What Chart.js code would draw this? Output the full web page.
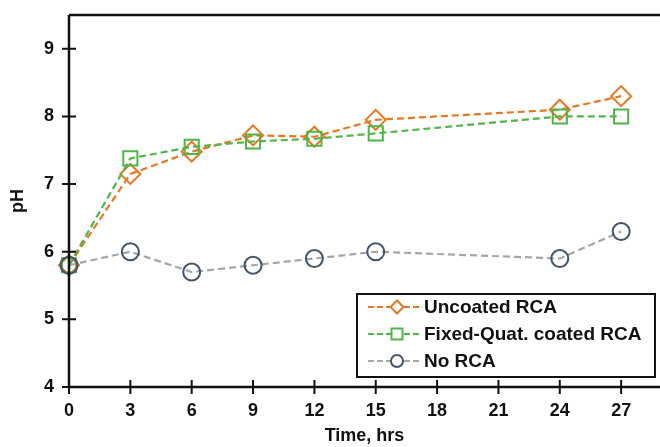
<!DOCTYPE html>
<html><head><meta charset="utf-8">
<script src="https://cdn.jsdelivr.net/npm/chart.js@4"></script>
<style>html,body{margin:0;padding:0;background:#fff;}#wrap{width:660px;height:447px;}</style>
</head><body><div id="wrap"><canvas id="c" width="660" height="447"></canvas></div>
<script>
const times = [0, 3, 6, 9, 12, 15, 24, 27];
const uncoated = [5.8, 7.15, 7.48, 7.72, 7.70, 7.95, 8.10, 8.30];
const fixedQuat = [5.8, 7.38, 7.55, 7.63, 7.67, 7.75, 8.00, 8.00];
const noRCA = [5.8, 6.0, 5.7, 5.8, 5.9, 6.0, 5.9, 6.3];
const seriesNames = ['Uncoated RCA', 'Fixed-Quat. coated RCA', 'No RCA'];
const xTicks = [0, 3, 6, 9, 12, 15, 18, 21, 24, 27];
const yTicks = [4, 5, 6, 7, 8, 9];

const FONT = 'Liberation Sans, Arial, sans-serif';
const toPts = (ys) => times.map((t, i) => ({x: t, y: ys[i]}));

const axesPlugin = {
  id: 'axesFrame',
  afterDatasetsDraw(chart) {
    const {ctx, chartArea: a, scales} = chart;
    ctx.save();
    ctx.strokeStyle = '#111';
    ctx.lineWidth = 2.5;
    ctx.beginPath();
    ctx.moveTo(a.left, a.top); ctx.lineTo(a.left, a.bottom); ctx.lineTo(a.right, a.bottom);
    ctx.moveTo(a.left, a.top); ctx.lineTo(a.right, a.top);
    ctx.stroke();
    ctx.lineWidth = 2;
    ctx.beginPath();
    yTicks.forEach(v => { const y = scales.y.getPixelForValue(v); ctx.moveTo(a.left - 7, y); ctx.lineTo(a.left + 7, y); });
    xTicks.forEach(v => { const x = scales.x.getPixelForValue(v); ctx.moveTo(x, a.bottom - 7); ctx.lineTo(x, a.bottom + 7); });
    ctx.stroke();
    ctx.restore();
  },
  afterDraw(chart) {
    const {ctx} = chart;
    const bx = 357, by = 294, bw = 298, bh = 83;
    ctx.save();
    ctx.fillStyle = '#fff';
    ctx.fillRect(bx, by, bw, bh);
    ctx.strokeStyle = '#111';
    ctx.lineWidth = 2;
    ctx.strokeRect(bx, by, bw, bh);
    const order = [2, 1, 0];
    order.forEach((di, i) => {
      const ds = chart.data.datasets[di];
      const y = by + 13 + i * 27;
      ctx.strokeStyle = ds.borderColor;
      ctx.lineWidth = 2;
      ctx.setLineDash([6, 3]);
      ctx.beginPath(); ctx.moveTo(bx + 11, y); ctx.lineTo(bx + 63, y); ctx.stroke();
      ctx.setLineDash([]);
      ctx.strokeStyle = ds.pointBorderColor;
      ctx.fillStyle = '#fff';
      const cx = bx + 40;
      ctx.lineWidth = 2;
      ctx.beginPath();
      if (ds.pointStyle === 'rectRot') { const r = 6.5; ctx.moveTo(cx, y - r); ctx.lineTo(cx + r, y); ctx.lineTo(cx, y + r); ctx.lineTo(cx - r, y); ctx.closePath(); }
      else if (ds.pointStyle === 'rect') { ctx.rect(cx - 5.5, y - 5.5, 11, 11); }
      else { ctx.arc(cx, y, 6, 0, Math.PI * 2); }
      ctx.fill(); ctx.stroke();
      ctx.fillStyle = '#111';
      ctx.font = 'bold 19px ' + FONT;
      ctx.textBaseline = 'middle';
      ctx.fillText(ds.label, bx + 67, y + 1);
    });
    ctx.restore();
  }
};

const mk = (label, data, line, point, style, r) => ({
  label, data: toPts(data), borderColor: line, pointBorderColor: point, pointBackgroundColor: 'rgba(255,255,255,0)',
  borderWidth: 2.2, borderDash: [7, 4], pointStyle: style, pointRadius: r, pointBorderWidth: 2, fill: false, tension: 0, clip: false
});

new Chart(document.getElementById('c'), {
  type: 'line',
  data: { datasets: [
    mk(seriesNames[2], noRCA, '#a6a6a6', '#44546a', 'circle', 8.5),
    mk(seriesNames[1], fixedQuat, '#4fb548', '#4fb548', 'rect', 10),
    mk(seriesNames[0], uncoated, '#e87722', '#e87722', 'rectRot', 10),
  ]},
  options: {
    responsive: false, animation: false,
    layout: { autoPadding: false, padding: { top: 15, right: 0, left: 0, bottom: 0 } },
    plugins: { legend: { display: false }, tooltip: { enabled: false } },
    scales: {
      x: {
        type: 'linear', min: 0, max: 28.9,
        afterBuildTicks: (s) => { s.ticks = xTicks.map(v => ({value: v})); },
        afterFit: (s) => { s.height = 60; s.paddingLeft = 0; s.paddingRight = 0; },
        grid: { display: false, drawTicks: false }, border: { display: false },
        ticks: { color: '#111', font: { family: FONT, size: 18, weight: 'bold' }, padding: 13, maxRotation: 0 },
        title: { display: true, text: 'Time, hrs', color: '#111', font: { family: FONT, size: 18, weight: 'bold' }, padding: { top: 3, bottom: 0 } }
      },
      y: {
        min: 4, max: 9.5,
        afterBuildTicks: (s) => { s.ticks = yTicks.map(v => ({value: v})); },
        afterFit: (s) => { s.width = 69; s.paddingTop = 0; s.paddingBottom = 0; },
        grid: { display: false, drawTicks: false }, border: { display: false },
        ticks: { color: '#111', font: { family: FONT, size: 18, weight: 'bold' }, padding: 15 },
        title: { display: true, text: 'pH', color: '#111', font: { family: FONT, size: 18, weight: 'bold' }, padding: { top: 7, bottom: 0 } }
      }
    }
  },
  plugins: [axesPlugin]
});
</script></body></html>
